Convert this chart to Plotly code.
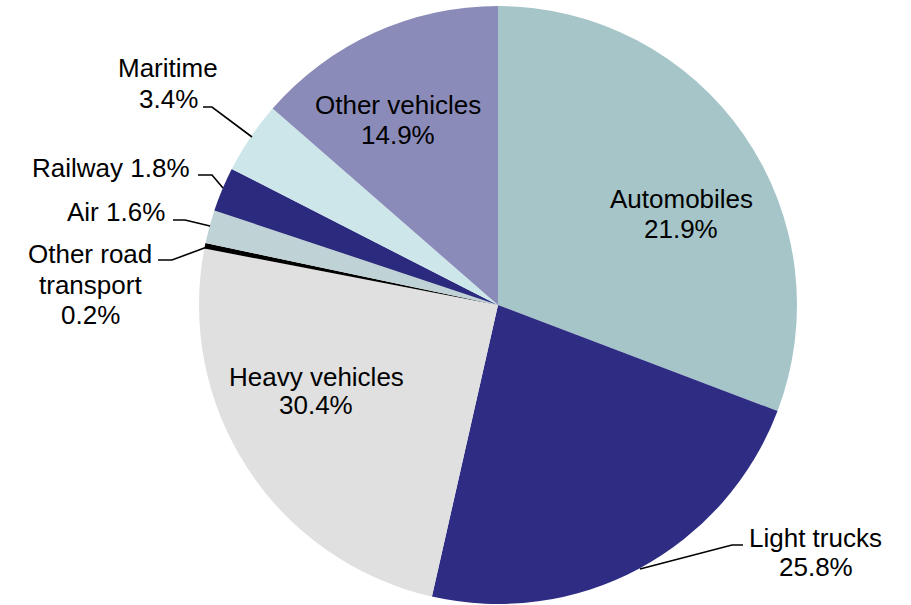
import plotly.graph_objects as go

W, H = 911, 605

# Data (slice sizes as drawn, clockwise from 12 o'clock)
categories = ["Automobiles", "Light trucks", "Heavy vehicles", "Other road transport",
              "Air", "Railway", "Maritime", "Other vehicles"]
slice_values = [30.8, 22.8, 24.5, 0.3, 1.8, 2.4, 3.9, 13.6]
label_pct = [21.9, 25.8, 30.4, 0.2, 1.6, 1.8, 3.4, 14.9]
colors = ["#A5C5C8", "#2E2C83", "#E0E0E0", "#000000",
          "#BFD3D6", "#2B2A7E", "#CDE6EA", "#8B8BB9"]

FONT = "Liberation Sans, Arial, sans-serif"

fig = go.Figure()
cx, cy, r = 498, 305, 299
fig.add_trace(go.Pie(
    labels=categories, values=slice_values, sort=False, direction="clockwise",
    rotation=0, textinfo="none", hoverinfo="label+percent",
    marker=dict(colors=colors, line=dict(width=0)),
    domain=dict(x=[(cx - r) / W, (cx + r) / W],
                y=[max(0, 1 - (cy + r) / H), min(1, 1 - (cy - r) / H)]),
    showlegend=False,
))

def px(x):
    return x / W

def py(y):
    return 1 - y / H

pct = dict(zip(categories, label_pct))
def p(name):
    return f"{pct[name]:.1f}%"

# label lines: (text, x, y_mid, xanchor)
label_lines = [
    ("Other vehicles", 397.5, 105, "center"), (p("Other vehicles"), 397.5, 135, "center"),
    ("Automobiles", 681, 199, "center"), (p("Automobiles"), 681, 229, "center"),
    ("Heavy vehicles", 316, 377, "center"), (p("Heavy vehicles"), 316, 405, "center"),
    ("Light trucks", 815.5, 538, "center"), (p("Light trucks"), 815.5, 567, "center"),
    ("Maritime", 168, 68, "center"), (p("Maritime"), 168, 99, "center"),
    (f"Railway {p('Railway')}", 192, 167.5, "right"),
    (f"Air {p('Air')}", 167, 211.5, "right"),
    ("Other road", 90, 254.5, "center"), ("transport", 90, 284.5, "center"),
    (p("Other road transport"), 90, 314.5, "center"),
]
for text, x, y, xa in label_lines:
    fig.add_annotation(text=text, x=px(x), y=py(y), xref="paper", yref="paper",
                       xanchor=xa, yanchor="middle", showarrow=False,
                       font=dict(family=FONT, size=26, color="#000000"))

# leader lines (pixel polylines)
leaders = [
    [(203, 107), (212, 107), (252, 137)],
    [(198, 175), (212, 175), (223, 188)],
    [(173, 220), (185, 220), (210, 226)],
    [(158, 260), (172, 260), (207, 247)],
    [(743, 545), (732, 545), (640, 569)],
]
for pts in leaders:
    path = "M " + " L ".join(f"{px(x):.5f},{py(y):.5f}" for x, y in pts)
    fig.add_shape(type="path", path=path, xref="paper", yref="paper",
                  line=dict(color="#000000", width=1.6))

fig.update_layout(
    width=W, height=H, margin=dict(l=0, r=0, t=0, b=0),
    paper_bgcolor="#FFFFFF", plot_bgcolor="#FFFFFF",
    font=dict(family=FONT),
)

fig.write_html("out.html", config={"displayModeBar": False},
               post_script="document.body.style.margin='0px';document.body.style.overflow='hidden';")
